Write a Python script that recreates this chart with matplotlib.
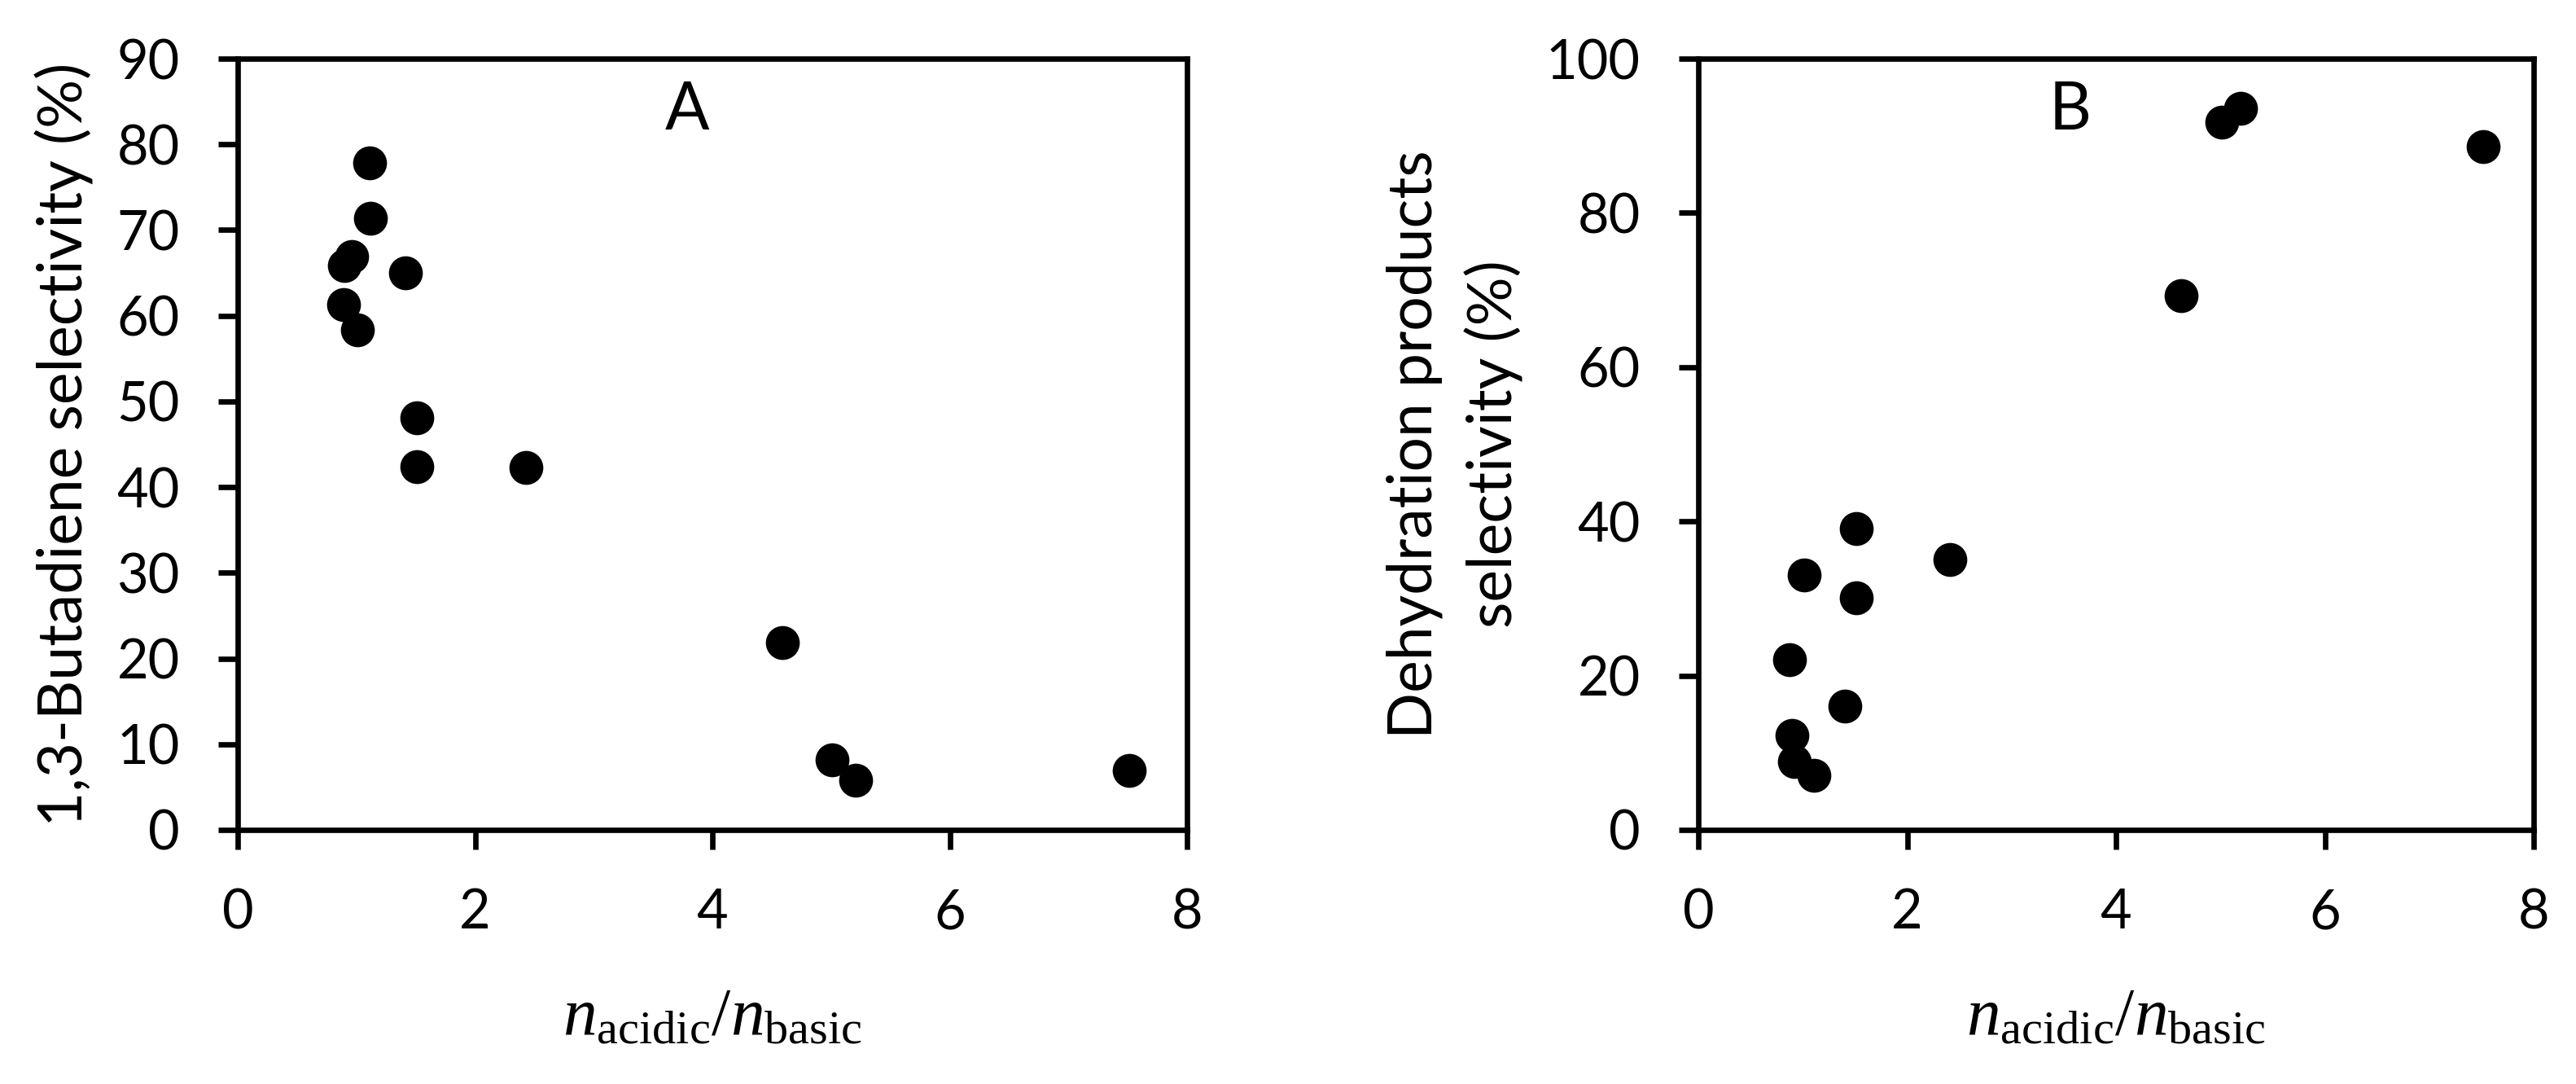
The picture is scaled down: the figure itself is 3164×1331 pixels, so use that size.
import matplotlib
matplotlib.use('Agg')
from matplotlib import pyplot as plt

# Panel A: 1,3-butadiene selectivity vs acid/base site ratio
ratioA = [1.11, 1.12, 0.96, 0.90, 1.41, 0.89, 1.01, 1.51, 1.51, 2.43, 4.59, 5.01, 5.21, 7.51]
butadieneSel = [77.8, 71.4, 66.9, 65.9, 65.0, 61.3, 58.4, 48.1, 42.4, 42.3, 21.9, 8.2, 5.8, 6.9]

# Panel B: dehydration products selectivity vs acid/base site ratio
ratioB = [5.19, 5.01, 7.52, 4.62, 1.51, 2.41, 1.01, 1.51, 0.87, 1.40, 0.90, 0.92, 1.11]
dehydrationSel = [93.6, 91.8, 88.6, 69.3, 39.1, 35.1, 33.1, 30.1, 22.1, 16.0, 12.2, 8.9, 7.1]

xTicks = [0, 2, 4, 6, 8]
yTicksA = list(range(0, 91, 10))
yTicksB = list(range(0, 101, 20))

plt.rcParams['font.family'] = ['Lato', 'DejaVu Sans']
plt.rcParams['mathtext.fontset'] = 'custom'
plt.rcParams['mathtext.rm'] = 'Liberation Serif'
plt.rcParams['mathtext.it'] = 'Liberation Serif:italic'

W, H = 3164, 1331
fig = plt.figure(figsize=(W/200, H/200), dpi=200)
axA = fig.add_axes([292/W, (H-1019)/H, 1166/W, 947/H])
axB = fig.add_axes([2086/W, (H-1019)/H, 1026/W, 947/H])

xLabel = r'$n_{\mathrm{acidic}}/n_{\mathrm{basic}}$'

def style(ax, yticks, ylabel, ylabelX, letter, letterX):
	ax.set_xlim(0, 8)
	ax.set_ylim(yticks[0], yticks[-1])
	ax.set_xticks(xTicks)
	ax.set_yticks(yticks)
	for s in ax.spines.values():
		s.set_linewidth(2.4)
	ax.tick_params(direction='out', length=8.6, width=2.4, pad=17, labelsize=24)
	ax.set_xlabel(xLabel, fontsize=30)
	ax.xaxis.set_label_coords(0.5, (1019-1270)/947)
	ax.xaxis.label.set_verticalalignment('baseline')
	ax.set_ylabel(ylabel, fontsize=27, linespacing=1.45)
	ax.yaxis.set_label_coords(ylabelX, 0.5)
	ax.text(letterX, 0.908, letter, transform=ax.transAxes, ha='center', va='baseline', fontsize=29)

axA.scatter(ratioA, butadieneSel, s=15**2, color='black', linewidths=0, zorder=3)
axB.scatter(ratioB, dehydrationSel, s=15**2, color='black', linewidths=0, zorder=3)

style(axA, yTicksA, '1,3-Butadiene selectivity (%)', -0.152, 'A', 0.473)
style(axB, yTicksB, 'Dehydration products\nselectivity (%)', -0.21, 'B', 0.445)

fig.savefig('out.png', dpi=200)
